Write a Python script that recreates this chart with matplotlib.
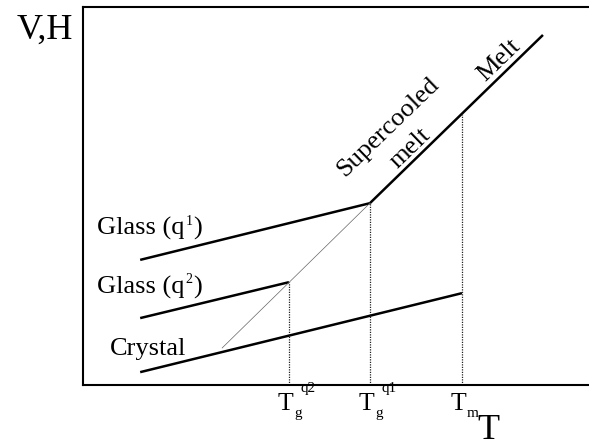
import matplotlib.pyplot as plt

plt.rcParams['font.family'] = 'Liberation Serif'

# Schematic values (T and V,H in arbitrary units, 0..100)
glass1_T = [11.3, 56.7]
glass1_V = [33.1, 48.1]
glass2_T = [11.3, 40.7]
glass2_V = [17.7, 27.2]
crystal_T = [11.3, 74.9]
crystal_V = [3.4, 24.3]
melt_T = [56.7, 90.9]
melt_V = [48.1, 92.6]
extrap_T = [27.5, 56.7]
extrap_V = [9.8, 48.1]

# characteristic temperatures and the curve value above each
tick_T = [40.7, 56.7, 74.9]
tick_top = [27.2, 48.1, 71.8]
tick_sub = ['g', 'g', 'm']
tick_sup = ['q2', 'q1', '']

fig = plt.figure(figsize=(5.89, 4.43), dpi=100)
ax = fig.add_axes([83 / 589, 58 / 443, 506 / 589, 378 / 443])
ax.set_xlim(0, 100)
ax.set_ylim(0, 100)
ax.set_xticks([])
ax.set_yticks([])
ax.spines['right'].set_visible(False)
for s in ['left', 'top', 'bottom']:
    ax.spines[s].set_linewidth(1.5)

lw = 1.8
ax.plot(glass1_T, glass1_V, color='black', lw=lw, solid_capstyle='butt')
ax.plot(glass2_T, glass2_V, color='black', lw=lw, solid_capstyle='butt')
ax.plot(crystal_T, crystal_V, color='black', lw=lw, solid_capstyle='butt')
ax.plot(melt_T, melt_V, color='black', lw=lw, solid_capstyle='butt')
ax.plot(extrap_T, extrap_V, color='#666666', lw=0.5)

# dotted drop lines
for t, top in zip(tick_T, tick_top):
    ax.plot([t, t], [0, top], color='#222222', lw=0.9, linestyle=(0, (1, 1)))

# tick labels built from pieces (T, subscript, superscript)
px = 5.06  # pixels per T unit
py = 3.78  # pixels per V unit
for t, sub, sup in zip(tick_T, tick_sub, tick_sup):
    ax.text(t - 11 / px, -25 / py, 'T', fontsize=18.5, ha='left', va='baseline', clip_on=False)
    ax.text(t + 5 / px, -32 / py, sub, fontsize=11, ha='left', va='baseline', clip_on=False)
    if sup:
        ax.text(t + 12 / px, -7 / py, sup, fontsize=11, ha='left', va='baseline', clip_on=False)

# axis titles
ax.text(-2.0, 91.5, 'V,H', fontsize=26, ha='right', va='baseline', clip_on=False)
ax.text(77.9, -14.2, 'T', fontsize=26, ha='left', va='baseline', clip_on=False)


def glass_label(x, y, q):
    base = ax.text(x, y, 'Glass (q', fontsize=19, ha='left', va='baseline')
    sup = ax.annotate(q, xy=(1, 0), xycoords=base, xytext=(0.5, 11),
                      textcoords='offset points', fontsize=10, ha='left', va='baseline')
    ax.annotate(')', xy=(1, 0), xycoords=(sup, base), xytext=(0.3, 0),
                textcoords='offset points', fontsize=19, ha='left', va='bottom')


# curve labels
glass_label(2.8, 39.7, '1')
glass_label(2.8, 24.3, '2')
ax.text(5.3, 7.9, 'Crystal', fontsize=19, ha='left', va='baseline')
ax.text(60.3, 68.3, 'Supercooled', fontsize=19, rotation=44, ha='center', va='center')
ax.text(64.6, 62.6, 'melt', fontsize=19, rotation=44, ha='center', va='center')
ax.text(82.2, 85.9, 'Melt', fontsize=19, rotation=44, ha='center', va='center')

fig.savefig('out.png', dpi=100)
